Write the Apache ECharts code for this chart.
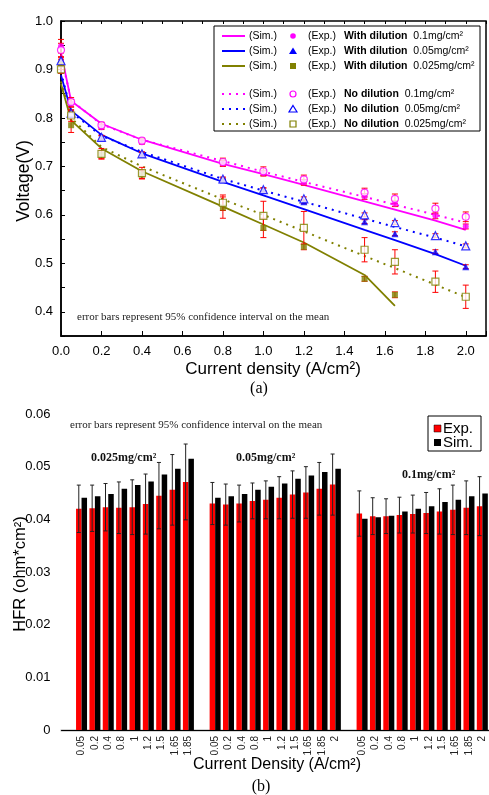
<!DOCTYPE html>
<html>
<head>
<meta charset="utf-8">
<script src="https://cdn.jsdelivr.net/npm/echarts@6/dist/echarts.min.js"></script>
<style>
html,body{margin:0;padding:0;background:#fff;}
#main{width:489px;height:795px;}
</style>
</head>
<body>
<div id="main"></div>
<script>
// ---------- (a) polarization curves ----------
const expX = [0, 0.05, 0.2, 0.4, 0.8, 1.0, 1.2, 1.5, 1.65, 1.85, 2.0];
const expX025 = [0, 0.05, 0.2, 0.4, 0.8, 1.0, 1.2, 1.5, 1.65];
const simX = [0, 0.05, 0.2, 0.4, 0.8, 1.0, 1.2, 1.5, 1.65, 1.85, 2.0];
const simX025 = [0, 0.05, 0.2, 0.4, 0.8, 1.0, 1.2, 1.5, 1.65];

const expWith01   = [0.948, 0.830, 0.781, 0.750, 0.706, 0.686, 0.667, 0.638, 0.623, 0.598, 0.576];
const expNo01     = [0.940, 0.833, 0.785, 0.753, 0.709, 0.690, 0.673, 0.646, 0.633, 0.613, 0.596];
const expWith005  = [0.920, 0.807, 0.759, 0.725, 0.672, 0.651, 0.627, 0.586, 0.561, 0.524, 0.493];
const expNo005    = [0.918, 0.810, 0.760, 0.726, 0.674, 0.652, 0.633, 0.600, 0.584, 0.557, 0.536];
const expWith0025 = [0.910, 0.785, 0.724, 0.683, 0.615, 0.573, 0.534, 0.468, 0.435];
const expNo0025   = [0.900, 0.805, 0.726, 0.686, 0.625, 0.598, 0.573, 0.528, 0.503, 0.462, 0.431];

const errWith01   = [0.014, 0.008, 0.005, 0.004, 0.006, 0.006, 0.006, 0.006, 0.006, 0.006, 0.005];
const errNo01     = [0.014, 0.009, 0.006, 0.005, 0.008, 0.009, 0.009, 0.009, 0.010, 0.011, 0.010];
const errWith005  = [0.006, 0.005, 0.004, 0.004, 0.004, 0.004, 0.004, 0.004, 0.004, 0.004, 0.004];
const errNo005    = [0.006, 0.005, 0.004, 0.004, 0.004, 0.004, 0.004, 0.004, 0.004, 0.004, 0.004];
const errWith0025 = [0.010, 0.015, 0.008, 0.008, 0.022, 0.020, 0.006, 0.005, 0.006];
const errNo0025   = [0.008, 0.012, 0.011, 0.012, 0.016, 0.030, 0.034, 0.025, 0.025, 0.022, 0.024];

const simWith01   = [0.935, 0.835, 0.788, 0.755, 0.705, 0.684, 0.662, 0.628, 0.611, 0.588, 0.569];
const simNo01     = [0.930, 0.836, 0.787, 0.755, 0.711, 0.689, 0.668, 0.637, 0.621, 0.600, 0.584];
const simWith005  = [0.888, 0.815, 0.765, 0.727, 0.668, 0.640, 0.612, 0.569, 0.548, 0.519, 0.495];
const simNo005    = [0.895, 0.812, 0.763, 0.730, 0.674, 0.650, 0.627, 0.592, 0.575, 0.553, 0.535];
const simWith0025 = [0.870, 0.795, 0.737, 0.690, 0.617, 0.580, 0.543, 0.476, 0.412];
const simNo0025   = [0.875, 0.800, 0.740, 0.700, 0.632, 0.600, 0.566, 0.515, 0.490, 0.456, 0.430];

// ---------- (b) HFR bars ----------
const hfrCats025 = ['0.05','0.2','0.4','0.8','1','1.2','1.5','1.65','1.85'];
const hfrCats    = ['0.05','0.2','0.4','0.8','1','1.2','1.5','1.65','1.85','2'];
const hfrExp025 = [0.0420, 0.0421, 0.0423, 0.0422, 0.0423, 0.0429, 0.0445, 0.0456, 0.0471];
const hfrSim025 = [0.0441, 0.0444, 0.0448, 0.0458, 0.0465, 0.0472, 0.0485, 0.0496, 0.0515];
const hfrErr025 = [0.0045, 0.0044, 0.0045, 0.0049, 0.0052, 0.0057, 0.0063, 0.0067, 0.0072];
const hfrExp005 = [0.0430, 0.0428, 0.0430, 0.0435, 0.0437, 0.0441, 0.0447, 0.0451, 0.0458, 0.0466];
const hfrSim005 = [0.0441, 0.0444, 0.0448, 0.0456, 0.0462, 0.0468, 0.0477, 0.0483, 0.0490, 0.0496];
const hfrErr005 = [0.0040, 0.0039, 0.0035, 0.0034, 0.0036, 0.0040, 0.0045, 0.0049, 0.0050, 0.0058];
const hfrExp01  = [0.0411, 0.0406, 0.0406, 0.0408, 0.0410, 0.0412, 0.0415, 0.0418, 0.0422, 0.0425];
const hfrSim01  = [0.0401, 0.0404, 0.0407, 0.0415, 0.0420, 0.0425, 0.0433, 0.0437, 0.0444, 0.0449];
const hfrErr01  = [0.0043, 0.0035, 0.0033, 0.0034, 0.0036, 0.0039, 0.0043, 0.0047, 0.0051, 0.0056];

// ---------- build ----------
const MAG = '#ff00ff', BLU = '#0000ff', OLV = '#808000', RED = '#ff0000';
function pts(xs, ys){ return xs.map((x,i)=>[x, ys[i]]); }
function errs(xs, ys, es){ return xs.map((x,i)=>[x, ys[i]-es[i], ys[i]+es[i]]); }

const barCats = [''].concat(hfrCats025, [''], hfrCats, [''], hfrCats);
const barExp = [null].concat(hfrExp025, [null], hfrExp005, [null], hfrExp01);
const barSim = [null].concat(hfrSim025, [null], hfrSim005, [null], hfrSim01);
const barErrVals = [null].concat(hfrErr025, [null], hfrErr005, [null], hfrErr01);
const barErr = [];
barExp.forEach((v,i)=>{ if(v!=null) barErr.push([i, v-barErrVals[i], v+barErrVals[i]]); });

function errSeries(data, color, xi, yi, capW, dx){
  return {
    type:'custom', xAxisIndex:xi, yAxisIndex:yi, data:data, silent:true, z:5,
    encode:{x:0, y:[1,2]},
    renderItem:function(params, api){
      const x = api.value(0);
      const p1 = api.coord([x, api.value(2)]);
      const p2 = api.coord([x, api.value(1)]);
      const cx = p1[0] + (dx||0);
      const st = {stroke:color, lineWidth:1};
      return {type:'group', children:[
        {type:'line', shape:{x1:cx,y1:p1[1],x2:cx,y2:p2[1]}, style:st},
        {type:'line', shape:{x1:cx-capW,y1:p1[1],x2:cx+capW,y2:p1[1]}, style:st},
        {type:'line', shape:{x1:cx-capW,y1:p2[1],x2:cx+capW,y2:p2[1]}, style:st}
      ]};
    }
  };
}
function simLine(xs, ys, color, dotted){
  return {type:'line', xAxisIndex:0, yAxisIndex:0, data:pts(xs,ys), symbol:'none', z:3,
    lineStyle:{color:color, width: dotted?2:1.8, type: dotted?[2,5]:'solid'}};
}
function expPts(xs, ys, color, sym, size, open){
  return {type:'scatter', xAxisIndex:0, yAxisIndex:0, data:pts(xs,ys), symbol:sym, symbolSize:size, z:6,
    itemStyle: open ? {color:'#fff', borderColor:color, borderWidth:1.2} : {color:color}};
}

const series = [
  errSeries(errs(expX, expWith01, errWith01), RED, 0, 0, 3),
  errSeries(errs(expX, expNo01, errNo01), RED, 0, 0, 3),
  errSeries(errs(expX, expWith005, errWith005), RED, 0, 0, 3),
  errSeries(errs(expX, expNo005, errNo005), RED, 0, 0, 3),
  errSeries(errs(expX025, expWith0025, errWith0025), RED, 0, 0, 3),
  errSeries(errs(expX, expNo0025, errNo0025), RED, 0, 0, 3),
  simLine(simX, simWith01, MAG, false),
  simLine(simX, simWith005, BLU, false),
  simLine(simX025, simWith0025, OLV, false),
  simLine(simX, simNo01, MAG, true),
  simLine(simX, simNo005, BLU, true),
  simLine(simX, simNo0025, OLV, true),
  expPts(expX, expWith01, MAG, 'circle', 6, false),
  expPts(expX, expWith005, BLU, 'triangle', 7, false),
  expPts(expX025, expWith0025, OLV, 'rect', 6, false),
  expPts(expX, expNo01, MAG, 'circle', 7, true),
  expPts(expX, expNo005, BLU, 'triangle', 8, true),
  expPts(expX, expNo0025, OLV, 'rect', 7, true),
  {type:'bar', name:'Exp.', xAxisIndex:2, yAxisIndex:1, data:barExp, barWidth:5.5, barGap:'0%', itemStyle:{color:RED}, z:2},
  {type:'bar', name:'Sim.', xAxisIndex:2, yAxisIndex:1, data:barSim, barWidth:5.5, barGap:'0%', itemStyle:{color:'#000'}, z:2},
  errSeries(barErr, '#222', 2, 1, 2, -2.75)
];

// legend graphics for (a)
const legRows = [
  {y:36, c:MAG, dot:false, sym:'circle', open:false, b:'With dilution', m:'0.1mg/cm²'},
  {y:51, c:BLU, dot:false, sym:'tri', open:false, b:'With dilution', m:'0.05mg/cm²'},
  {y:66, c:OLV, dot:false, sym:'rect', open:false, b:'With dilution', m:'0.025mg/cm²'},
  {y:94, c:MAG, dot:true, sym:'circle', open:true, b:'No dilution', m:'0.1mg/cm²'},
  {y:109, c:BLU, dot:true, sym:'tri', open:true, b:'No dilution', m:'0.05mg/cm²'},
  {y:124, c:OLV, dot:true, sym:'rect', open:true, b:'No dilution', m:'0.025mg/cm²'}
];
const FS = '"Liberation Sans", Arial, sans-serif';
const SERIF = '"Liberation Serif", "Times New Roman", serif';
const graphics = [
  {type:'rect', shape:{x:214, y:26, width:266, height:105}, style:{fill:'#fff', stroke:'#000', lineWidth:1}, z:10}
];
legRows.forEach(r=>{
  graphics.push({type:'line', shape:{x1:222,y1:r.y,x2:245,y2:r.y}, style:{stroke:r.c, lineWidth:2, lineDash: r.dot?[2,5]:null}, z:11});
  graphics.push({type:'text', x:249, y:r.y, style:{text:'(Sim.)', font:'10.5px '+FS, fill:'#000', textVerticalAlign:'middle'}, z:11});
  const ms = r.open ? {fill:'#fff', stroke:r.c, lineWidth:1.2} : {fill:r.c};
  if(r.sym==='circle') graphics.push({type:'circle', shape:{cx:293, cy:r.y, r:r.open?3:2.8}, style:ms, z:11});
  else if(r.sym==='tri') graphics.push({type:'polygon', shape:{points:[[293,r.y-3.5],[297,r.y+3],[289,r.y+3]]}, style:ms, z:11});
  else graphics.push({type:'rect', shape:{x:290, y:r.y-3, width:6, height:6}, style:ms, z:11});
  graphics.push({type:'text', x:308, y:r.y, style:{text:'(Exp.)', font:'10.5px '+FS, fill:'#000', textVerticalAlign:'middle'}, z:11});
  graphics.push({type:'text', x:344, y:r.y, style:{
    text:'{b|'+r.b+'}  '+r.m, font:'10.5px '+FS, fill:'#000', textVerticalAlign:'middle',
    rich:{b:{fontWeight:'bold', fontSize:10.5, fontFamily:'Liberation Sans'}}}, z:11});
});
// notes, titles
graphics.push(
  {type:'text', x:77, y:317, style:{text:'error bars represent 95% confidence interval on the mean', font:'11px '+SERIF, fill:'#222', textVerticalAlign:'middle'}},
  {type:'text', x:273, y:369, style:{text:'Current density (A/cm²)', font:'17px '+FS, fill:'#000', textAlign:'center', textVerticalAlign:'middle'}},
  {type:'text', x:259, y:389, style:{text:'(a)', font:'16px '+SERIF, fill:'#000', textAlign:'center', textVerticalAlign:'middle'}},
  {type:'text', x:24, y:181, rotation:Math.PI/2, style:{text:'Voltage(V)', font:'17.5px '+FS, fill:'#000', textAlign:'center', textVerticalAlign:'middle'}},
  {type:'text', x:70, y:425, style:{text:'error bars represent 95% confidence interval on the mean', font:'11px '+SERIF, fill:'#222', textVerticalAlign:'middle'}},
  {type:'text', x:91, y:458, style:{text:'0.025mg/cm²', font:'bold 12px '+SERIF, fill:'#111', textVerticalAlign:'middle'}},
  {type:'text', x:236, y:458, style:{text:'0.05mg/cm²', font:'bold 12px '+SERIF, fill:'#111', textVerticalAlign:'middle'}},
  {type:'text', x:402, y:475, style:{text:'0.1mg/cm²', font:'bold 12px '+SERIF, fill:'#111', textVerticalAlign:'middle'}},
  {type:'text', x:277, y:765, style:{text:'Current Density (A/cm²)', font:'16px '+FS, fill:'#000', textAlign:'center', textVerticalAlign:'middle'}},
  {type:'text', x:261, y:787, style:{text:'(b)', font:'16px '+SERIF, fill:'#000', textAlign:'center', textVerticalAlign:'middle'}},
  {type:'text', x:20, y:574, rotation:Math.PI/2, style:{text:'HFR (ohm*cm²)', font:'16.5px '+FS, fill:'#000', textAlign:'center', textVerticalAlign:'middle'}},
  {type:'rect', shape:{x:428, y:416, width:53, height:35}, style:{fill:'#fff', stroke:'#000', lineWidth:1}, z:10},
  {type:'rect', shape:{x:434, y:425, width:7, height:7}, style:{fill:RED, stroke:'#000', lineWidth:0.5}, z:11},
  {type:'rect', shape:{x:434, y:439, width:7, height:7}, style:{fill:'#000'}, z:11},
  {type:'text', x:443, y:428.5, style:{text:'Exp.', font:'15px '+FS, fill:'#000', textVerticalAlign:'middle'}, z:11},
  {type:'text', x:443, y:442.5, style:{text:'Sim.', font:'15px '+FS, fill:'#000', textVerticalAlign:'middle'}, z:11}
);

const chart = echarts.init(document.getElementById('main'), null, {renderer:'canvas'});
chart.setOption({
  animation:false,
  backgroundColor:'#fff',
  textStyle:{fontFamily:'Liberation Sans'},
  grid:[
    {left:61, top:21, width:426, height:315, show:true, borderColor:'#000', borderWidth:1.5},
    {left:61.5, top:414, width:432, height:316}
  ],
  xAxis:[
    {gridIndex:0, type:'value', min:0, max:2.1, interval:0.2,
      axisLine:{lineStyle:{color:'#000', width:1.5}},
      axisTick:{inside:true, length:5, lineStyle:{color:'#000'}},
      axisLabel:{fontSize:13, color:'#000', margin:9, formatter:v=> v>2.05?'':v.toFixed(1)},
      splitLine:{show:false}},
    {gridIndex:0, type:'value', min:0, max:2.1, interval:0.1,
      axisLine:{show:false}, axisTick:{inside:true, length:3, lineStyle:{color:'#000'}},
      axisLabel:{show:false}, splitLine:{show:false}},
    {gridIndex:1, type:'category', data:barCats, boundaryGap:true,
      axisLine:{lineStyle:{color:'#c8c8c8', width:2.5}},
      axisTick:{show:false},
      axisLabel:{rotate:90, interval:0, fontSize:10, color:'#222', margin:6}},
    {gridIndex:1, type:'category', data:barCats, position:'top',
      axisLine:{lineStyle:{color:'#000', width:1}}, axisTick:{show:false}, axisLabel:{show:false}}
  ],
  yAxis:[
    {gridIndex:0, type:'value', min:0.35, max:1.0, interval:0.05,
      axisLine:{lineStyle:{color:'#000', width:1.5}},
      axisTick:{inside:true, length:4, lineStyle:{color:'#000'}},
      axisLabel:{fontSize:13, color:'#000', margin:8,
        formatter:v=> (Math.abs(v*10-Math.round(v*10))<1e-6) ? v.toFixed(1) : ''},
      splitLine:{show:false}},
    {gridIndex:1, type:'value', min:0, max:0.06, interval:0.01,
      axisLine:{lineStyle:{color:'#222', width:2}},
      axisTick:{inside:true, length:5, lineStyle:{color:'#222'}},
      axisLabel:{fontSize:13, color:'#000', margin:11, formatter:v=> v===0?'0':String(parseFloat(v.toFixed(3)))},
      splitLine:{show:false}},
    {gridIndex:1, type:'value', min:0, max:0.06, interval:0.005, position:'left',
      axisLine:{show:false},
      axisTick:{inside:true, length:3, lineStyle:{color:'#222'}},
      axisLabel:{show:false}, splitLine:{show:false}}
  ],
  series:series,
  graphic:graphics
});
</script>
</body>
</html>
